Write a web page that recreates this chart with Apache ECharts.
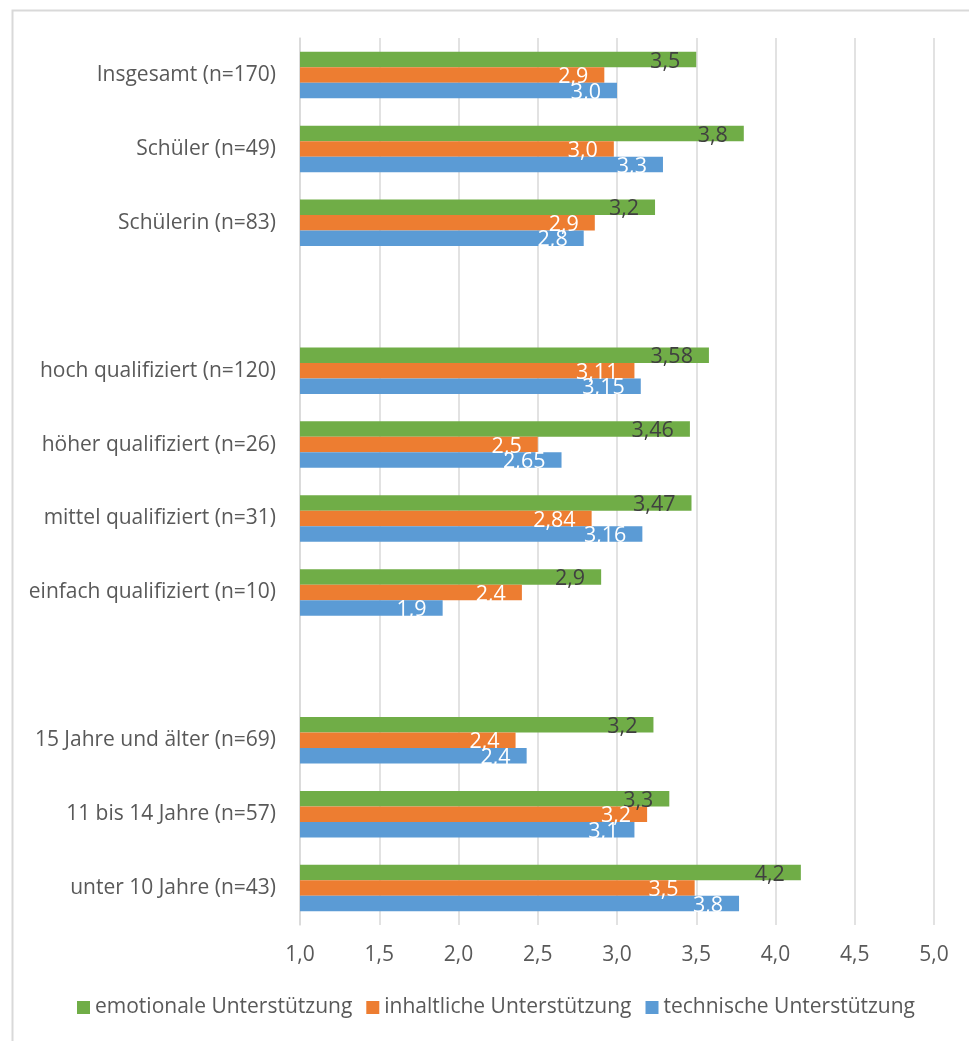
<!DOCTYPE html>
<html>
<head>
<meta charset="utf-8">
<script src="https://cdn.jsdelivr.net/npm/echarts@6/dist/echarts.min.js"></script>
<style>
  html, body { margin: 0; padding: 0; background: #ffffff; }
  #chart { width: 969px; height: 1041px; }
</style>
</head>
<body>
<div id="chart"></div>
<script>
// Row labels, top to bottom; empty strings are spacer rows between the groups
const categories = [
  'Insgesamt (n=170)', 'Schüler (n=49)', 'Schülerin (n=83)', '',
  'hoch qualifiziert (n=120)', 'höher qualifiziert (n=26)', 'mittel qualifiziert (n=31)', 'einfach qualifiziert (n=10)', '',
  '15 Jahre und älter (n=69)', '11 bis 14 Jahre (n=57)', 'unter 10 Jahre (n=43)'
];

const seriesNames = ['emotionale Unterstützung', 'inhaltliche Unterstützung', 'technische Unterstützung'];

const emotional = [3.50, 3.80, 3.24, null, 3.58, 3.46, 3.47, 2.9, null, 3.23, 3.33, 4.16];
const content   = [2.92, 2.98, 2.86, null, 3.11, 2.5, 2.84, 2.4, null, 2.36, 3.19, 3.49];
const technical = [3.00, 3.29, 2.79, null, 3.15, 2.65, 3.16, 1.9, null, 2.43, 3.11, 3.77];

// Decimal places shown in the value labels of each row (2 = shown as recorded)
const labelDecimals = [1, 1, 1, 0, 2, 2, 2, 2, 0, 1, 1, 1];

const axisTicks = { min: 1, max: 5, interval: 0.5 };

const colors = ['#70AD47', '#ED7D31', '#5B9BD5'];
const labelColors = ['#404040', '#ffffff', '#ffffff'];
const FONT = '"Open Sans", sans-serif';
const TEXT = '#595959';

function comma(s) { return String(s).replace('.', ','); }

function formatValue(v, row) {
  if (v == null) return '';
  const d = labelDecimals[row];
  if (d === 1) return comma(v.toFixed(1));
  return comma(String(+v.toFixed(2)));
}

const seriesData = [emotional, content, technical];

const chart = echarts.init(document.getElementById('chart'), null, { renderer: 'canvas' });

chart.setOption({
  animation: false,
  backgroundColor: '#ffffff',
  textStyle: { fontFamily: FONT },
  graphic: [{
    type: 'rect',
    left: 10, top: 8,
    shape: { width: 1000, height: 1100 },
    style: { fill: 'none', stroke: '#D9D9D9', lineWidth: 2 },
    silent: true
  }],
  grid: { left: 300, right: 35, top: 38, bottom: 116, containLabel: false },
  legend: {
    bottom: 18,
    left: 72,
    itemWidth: 13,
    itemHeight: 13,
    itemGap: 14,
    icon: 'rect',
    textStyle: { color: TEXT, fontSize: 21, fontFamily: FONT },
    data: seriesNames
  },
  xAxis: {
    type: 'value',
    min: axisTicks.min,
    max: axisTicks.max,
    interval: axisTicks.interval,
    axisLine: { show: false },
    axisTick: { show: false },
    axisLabel: {
      color: TEXT, fontSize: 21, fontFamily: FONT, margin: 20,
      formatter: v => comma(v.toFixed(1))
    },
    splitLine: { lineStyle: { color: '#D9D9D9', width: 1.5 } }
  },
  yAxis: {
    type: 'category',
    data: categories,
    inverse: true,
    axisLine: { show: true, lineStyle: { color: '#D9D9D9', width: 1.5 } },
    axisTick: { show: false },
    axisLabel: { color: TEXT, fontSize: 21, fontFamily: FONT, margin: 24 }
  },
  series: seriesNames.map((name, i) => ({
    name,
    type: 'bar',
    data: seriesData[i],
    barWidth: 15.5,
    barGap: '0%',
    itemStyle: { color: colors[i] },
    label: {
      show: true,
      position: 'insideRight',
      distance: 16,
      offset: [0, 2],
      color: labelColors[i],
      fontSize: 21.5,
      fontFamily: FONT,
      formatter: p => formatValue(p.value, p.dataIndex)
    }
  }))
});
</script>
</body>
</html>
